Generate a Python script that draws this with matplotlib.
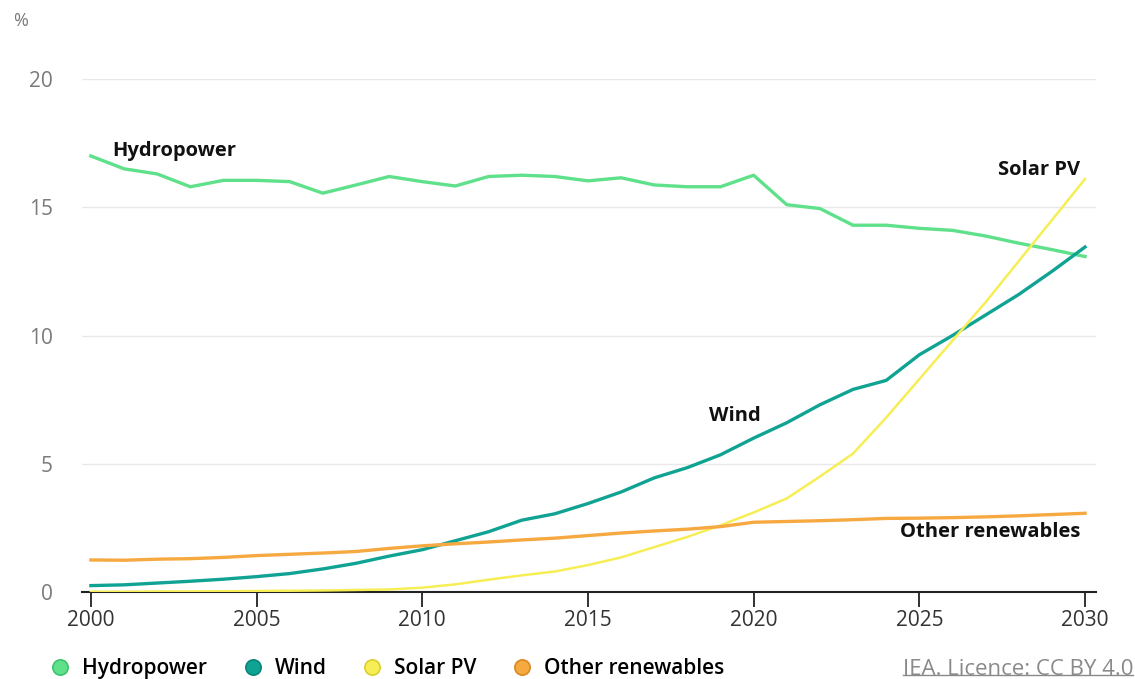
import matplotlib.pyplot as plt
from matplotlib.lines import Line2D

# Datos (porcentaje de la generación)
years = list(range(2000, 2031))
hydro = [17.0, 16.5, 16.3, 15.8, 16.05, 16.05, 16.0, 15.55, 15.87, 16.2,
         16.0, 15.83, 16.2, 16.25, 16.2, 16.03, 16.15, 15.87, 15.8, 15.8,
         16.25, 15.1, 14.95, 14.3, 14.3, 14.18, 14.1, 13.88, 13.6, 13.35, 13.08]
wind = [0.25, 0.28, 0.35, 0.42, 0.5, 0.6, 0.72, 0.9, 1.12, 1.4,
        1.65, 2.0, 2.35, 2.8, 3.05, 3.45, 3.9, 4.45, 4.85, 5.35,
        6.0, 6.6, 7.3, 7.9, 8.25, 9.25, 10.0, 10.8, 11.6, 12.5, 13.45]
solar = [0.01, 0.01, 0.02, 0.02, 0.03, 0.04, 0.05, 0.06, 0.08, 0.1,
         0.17, 0.3, 0.48, 0.65, 0.8, 1.05, 1.35, 1.75, 2.15, 2.6,
         3.1, 3.65, 4.5, 5.4, 6.8, 8.3, 9.8, 11.3, 12.9, 14.5, 16.1]
other = [1.25, 1.24, 1.28, 1.3, 1.35, 1.42, 1.47, 1.52, 1.58, 1.7,
         1.8, 1.88, 1.95, 2.03, 2.1, 2.2, 2.3, 2.38, 2.45, 2.55,
         2.72, 2.75, 2.78, 2.82, 2.87, 2.88, 2.9, 2.93, 2.97, 3.02, 3.07]

names = ['Hydropower', 'Wind', 'Solar PV', 'Other renewables']
colors = ['#5fe08b', '#10a393', '#f7ee55', '#f6a940']
edges = ['#3cc46c', '#0b8577', '#d9cf2e', '#d98a22']
xticks = [2000, 2005, 2010, 2015, 2020, 2025, 2030]
yticks = [0, 5, 10, 15, 20]

plt.rcParams['font.family'] = ['Open Sans', 'DejaVu Sans']

fig = plt.figure(figsize=(11.35, 6.79), dpi=100)
ax = fig.add_axes([0.0722, 0.1281, 0.8934, 0.7555])

series = [hydro, wind, solar, other]
widths = [2.4, 2.4, 1.8, 2.4]
for vals, c, w in zip(series, colors, widths):
    ax.plot(years, vals, color=c, lw=w, solid_joinstyle='round', zorder=3)

ax.set_xlim(1999.73, 2030.33)
ax.set_ylim(0, 20)
ax.set_xticks(xticks)
ax.set_yticks(yticks)
ax.grid(axis='y', color='#e8e8e8', lw=1)
ax.set_axisbelow(True)
for s in ['top', 'right', 'left']:
    ax.spines[s].set_visible(False)
ax.spines['bottom'].set_color('#222222')
ax.spines['bottom'].set_linewidth(1.5)
ax.tick_params(axis='x', length=11, width=1.3, color='#222222',
               labelsize=15, labelcolor='#333333', pad=2)
ax.tick_params(axis='y', length=0, labelsize=15, labelcolor='#7a7a7a', pad=21)

# etiquetas de series
lbl = dict(fontsize=14.5, fontweight='bold', color='#111111')
ax.text(2000.65, 17.2, 'Hydropower', va='center', ha='left', **lbl)
ax.text(2029.85, 16.45, 'Solar PV', va='center', ha='right', **lbl)
ax.text(2018.65, 6.85, 'Wind', va='center', ha='left', **lbl)
ax.text(2029.85, 2.35, 'Other renewables', va='center', ha='right', **lbl)

fig.text(0.012, 0.962, '%', fontsize=13, color='#7a7a7a')

# leyenda
handles = [Line2D([], [], ls='', marker='o', ms=11, markerfacecolor=c,
                  markeredgecolor=e, markeredgewidth=1.2)
           for c, e in zip(colors, edges)]
fig.legend(handles, names, loc='lower left', bbox_to_anchor=(0.027, -0.028),
           ncol=4, frameon=False, prop={'size': 15, 'weight': 'semibold'},
           handletextpad=0.55, columnspacing=1.7, handlelength=1.0)

t = fig.text(0.9985, -0.001, 'IEA. Licence: CC BY 4.0', ha='right', va='bottom',
             fontsize=16, color='#8a8a8a')
fig.canvas.draw()
bb = t.get_window_extent().transformed(fig.transFigure.inverted())
fig.add_artist(Line2D([bb.x0, bb.x1], [bb.y0 + 0.007, bb.y0 + 0.007],
                      transform=fig.transFigure, color='#8a8a8a', lw=1))

fig.savefig('out.png', dpi=100)
